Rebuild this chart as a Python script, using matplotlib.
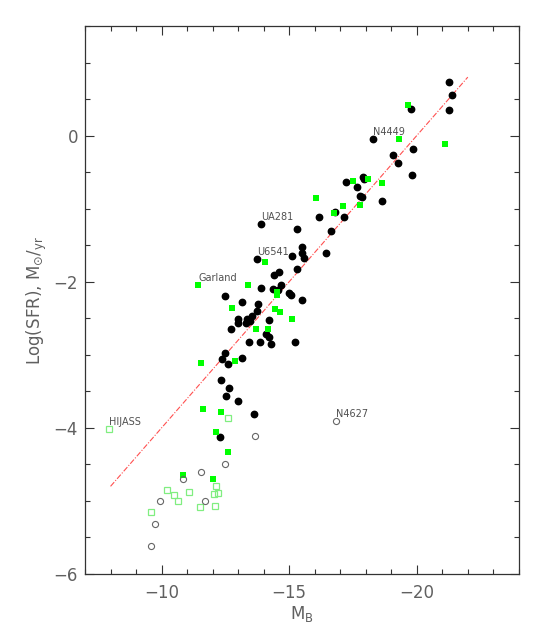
#!/usr/bin/python3
import matplotlib as mpl
mpl.use('Agg')

import matplotlib.pyplot as plt
from matplotlib.ticker import MultipleLocator
import numpy as np

# colours
ink = "#606060"
axis_color = "#333333"
green = "#00ff00"
light_green = "#80ee80"
fit_color = "#ff5050"

# filled black circles: M_B and log SFR
mb_det = [-21.27, -21.38, -21.28, -19.77, -18.29, -19.86, -19.06, -19.25, -19.80,
          -17.90, -17.95, -17.22, -17.67, -17.76, -17.85, -18.62, -16.18, -16.79,
          -17.14, -16.62, -15.50, -15.50, -15.58, -16.43, -13.89, -15.32, -15.10,
          -13.73, -15.32, -14.61, -14.40, -14.67, -13.88, -14.35, -14.98, -15.07,
          -14.56, -12.47, -15.49, -13.15, -13.79, -13.73, -13.00, -13.33, -13.53,
          -13.46, -13.00, -14.20, -13.29, -12.73, -14.10, -14.21, -13.44, -13.85,
          -14.29, -15.21, -12.47, -12.38, -12.61, -13.14, -12.32, -12.63, -12.53,
          -12.99, -13.63, -12.30]
lsfr_det = [0.73, 0.56, 0.35, 0.36, -0.04, -0.19, -0.26, -0.38, -0.54,
            -0.56, -0.60, -0.64, -0.71, -0.82, -0.84, -0.90, -1.11, -1.04,
            -1.11, -1.30, -1.53, -1.61, -1.68, -1.61, -1.21, -1.28, -1.65,
            -1.69, -1.83, -1.87, -1.91, -2.04, -2.09, -2.10, -2.15, -2.18,
            -2.11, -2.19, -2.25, -2.28, -2.30, -2.40, -2.51, -2.51, -2.47,
            -2.54, -2.56, -2.52, -2.56, -2.64, -2.71, -2.75, -2.83, -2.83,
            -2.85, -2.82, -2.98, -3.06, -3.12, -3.04, -3.34, -3.45, -3.57,
            -3.63, -3.81, -4.13]

# filled green squares
mb_grn = [-19.66, -19.31, -21.09, -18.10, -18.62, -17.49, -16.04, -17.12, -17.78,
          -16.74, -14.05, -11.43, -13.40, -14.53, -14.54, -12.75, -14.44, -14.65,
          -15.11, -13.70, -14.17, -11.53, -12.88, -11.61, -12.32, -12.14, -12.60,
          -10.85, -12.00]
lsfr_grn = [0.42, -0.05, -0.12, -0.59, -0.65, -0.62, -0.85, -0.97, -0.95,
            -1.06, -1.73, -2.05, -2.04, -2.14, -2.18, -2.36, -2.37, -2.42,
            -2.51, -2.65, -2.64, -3.11, -3.08, -3.74, -3.78, -4.06, -4.33,
            -4.64, -4.70]

# open green squares
mb_grn_open = [-7.95, -12.61, -10.21, -10.50, -10.63, -11.09, -12.14, -12.05,
               -12.20, -11.52, -12.10, -9.60]
lsfr_grn_open = [-4.02, -3.87, -4.85, -4.92, -5.00, -4.88, -4.80, -4.90,
                 -4.89, -5.08, -5.07, -5.15]

# open grey circles
mb_open = [-16.83, -13.67, -12.50, -11.54, -10.85, -9.95, -11.69, -9.75, -9.59]
lsfr_open = [-3.90, -4.11, -4.50, -4.61, -4.70, -5.00, -5.00, -5.31, -5.61]

# named galaxies
names = ["N4449", "UA281", "U6541", "Garland", "HIJASS", "N4627"]
name_mb = [-18.29, -13.89, -13.73, -11.43, -7.95, -16.83]
name_lsfr = [-0.04, -1.21, -1.69, -2.05, -4.02, -3.90]

# linear fit: log SFR = slope * M_B + icpt
fit_slope = -0.4
fit_icpt = -8.0
fit_mb = [-8.0, -22.0]

plt.rcParams['mathtext.fontset'] = 'dejavusans'

fig = plt.figure(figsize=(5.45, 6.29), dpi=100)
ax = fig.add_axes([0.156, 0.0874, 0.796, 0.8713])

mb_line = np.array(fit_mb)
ax.plot(mb_line, fit_slope * mb_line + fit_icpt, color=fit_color, linewidth=0.8,
        dashes=(5, 1.5, 1, 1.5), zorder=1)

ax.plot(mb_det, lsfr_det, 'o', color='black', markersize=4.6, zorder=2)
ax.plot(mb_grn, lsfr_grn, 's', color=green, markersize=4.3, markeredgewidth=0,
        zorder=3)
ax.plot(mb_grn_open, lsfr_grn_open, 's', markerfacecolor='none',
        markeredgecolor=light_green, markersize=4.6, markeredgewidth=0.9, zorder=3)
ax.plot(mb_open, lsfr_open, 'o', markerfacecolor='none', markeredgecolor='#666666',
        markersize=4.4, markeredgewidth=0.8, zorder=3)

for n, x, y in zip(names, name_mb, name_lsfr):
  ax.annotate(n, (x, y), xytext=(0, 5), textcoords='offset points',
              ha='left', va='center', fontsize=7, color="#505050")

ax.set_xlim(-7, -24)
ax.set_ylim(-6, 1.5)
ax.xaxis.set_major_locator(MultipleLocator(5))
ax.xaxis.set_minor_locator(MultipleLocator(1))
ax.yaxis.set_major_locator(MultipleLocator(2))
ax.yaxis.set_minor_locator(MultipleLocator(0.5))

ax.tick_params(which='both', direction='in', top=True, right=True,
               color=axis_color, labelcolor=ink, labelsize=12, width=0.8)
ax.tick_params(which='major', length=6.5)
ax.tick_params(which='minor', length=3.3)
ax.tick_params(axis='x', which='major', pad=7)
ax.tick_params(axis='y', which='major', pad=5)
for s in ax.spines.values():
  s.set_color(axis_color)
  s.set_linewidth(0.9)

ax.set_xlabel(r'M$_{\rm B}$', fontsize=12, color=ink, labelpad=1.5)
ax.set_ylabel(r'Log(SFR), M$_{\odot}$/$_{\rm yr}$', fontsize=12, color=ink,
              labelpad=3)

plt.savefig('out.png', dpi=100)
plt.close()
